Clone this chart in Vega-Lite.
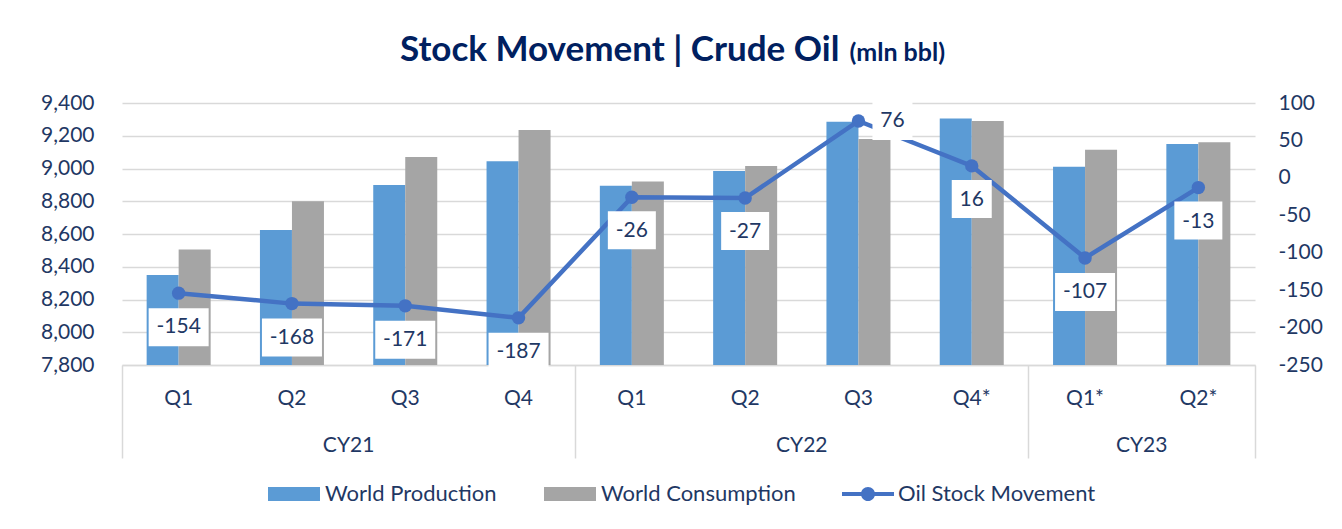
{
  "$schema": "https://vega.github.io/schema/vega-lite/v6.json",
  "width": 1133,
  "height": 262,
  "autosize": {"type": "none"},
  "padding": {"left": 122, "top": 103, "right": 87, "bottom": 164},
  "background": "white",
  "title": {
    "text": "Stock Movement | Crude Oil",
    "anchor": "start",
    "frame": "group",
    "dx": 278,
    "fontSize": 35,
    "fontWeight": "bold",
    "font": "Lato",
    "color": "#002060",
    "offset": -28
  },
  "config": {
    "font": "Lato",
    "view": {"stroke": null},
    "axis": {"labelFont": "Lato", "labelColor": "#1F3864", "labelFontSize": 21, "titleFont": "Lato"},
    "legend": {"labelFont": "Lato"}
  },
  "data": {
    "values": [
      {"period": "CY21 Q1", "World Production": 8350, "World Consumption": 8505, "stock": -154},
      {"period": "CY21 Q2", "World Production": 8625, "World Consumption": 8800, "stock": -168},
      {"period": "CY21 Q3", "World Production": 8900, "World Consumption": 9070, "stock": -171},
      {"period": "CY21 Q4", "World Production": 9045, "World Consumption": 9235, "stock": -187},
      {"period": "CY22 Q1", "World Production": 8895, "World Consumption": 8920, "stock": -26},
      {"period": "CY22 Q2", "World Production": 8985, "World Consumption": 9015, "stock": -27},
      {"period": "CY22 Q3", "World Production": 9285, "World Consumption": 9180, "stock": 76},
      {"period": "CY22 Q4*", "World Production": 9305, "World Consumption": 9290, "stock": 16},
      {"period": "CY23 Q1*", "World Production": 9010, "World Consumption": 9115, "stock": -107},
      {"period": "CY23 Q2*", "World Production": 9150, "World Consumption": 9160, "stock": -13}
    ]
  },
  "layer": [
    {
      "transform": [{"fold": ["World Production", "World Consumption"], "as": ["series", "value"]}],
      "mark": {"type": "bar", "clip": true},
      "encoding": {
        "x": {
          "field": "period", "type": "nominal", "sort": null,
          "scale": {"type": "band", "paddingInner": 0, "paddingOuter": 0},
          "axis": {
            "orient": "bottom", "title": null,
            "labelExpr": "split(datum.value, ' ')[1]",
            "labelAngle": 0, "ticks": false, "tickSize": 0,
            "domain": true, "domainColor": "#D9D9D9", "domainWidth": 1.5,
            "labelPadding": 22, "labelBaseline": "top"
          }
        },
        "xOffset": {
          "field": "series", "type": "nominal",
          "sort": ["World Production", "World Consumption"],
          "scale": {"paddingInner": 0, "paddingOuter": 0.77}
        },
        "y": {
          "field": "value", "type": "quantitative",
          "scale": {"domain": [7800, 9400], "nice": false, "zero": false},
          "axis": {
            "orient": "left", "title": null,
            "values": [7800, 8000, 8200, 8400, 8600, 8800, 9000, 9200, 9400],
            "format": ",.0f", "grid": true, "gridColor": "#D9D9D9", "gridWidth": 1.5,
            "domain": false, "ticks": false, "labelPadding": 28
          }
        },
        "color": {
          "field": "series", "type": "nominal",
          "scale": {"domain": ["World Production", "World Consumption"], "range": ["#5B9BD5", "#A5A5A5"]},
          "legend": {
            "title": null, "orient": "none", "legendX": 146, "legendY": 365,
            "direction": "horizontal", "padding": 0,
            "symbolType": "M-1,-0.27L1,-0.27L1,0.27L-1,0.27Z", "symbolSize": 2704,
            "symbolStrokeWidth": 0, "symbolOpacity": 1,
            "labelFontSize": 22, "labelColor": "#1F3864", "labelOffset": 5,
            "columnPadding": 47, "labelLimit": 400
          }
        }
      }
    },
    {
      "encoding": {
        "x": {
          "field": "period", "type": "nominal", "sort": null,
          "scale": {"type": "band", "paddingInner": 0, "paddingOuter": 0},
          "axis": {
            "orient": "bottom", "title": null,
            "labelExpr": "datum.value == 'CY21 Q2' ? 'CY21' : datum.value == 'CY22 Q2' ? 'CY22' : datum.value == 'CY23 Q1*' ? 'CY23' : ''",
            "labelAngle": 0, "bandPosition": 1, "tickExtra": true, "labelOffset": 56.65,
            "ticks": true, "tickSize": 93, "tickColor": "#D9D9D9", "tickWidth": 1.5,
            "tickOpacity": {
              "condition": {"test": "datum.extra || datum.value == 'CY21 Q4' || datum.value == 'CY22 Q4*' || datum.value == 'CY23 Q2*'", "value": 1},
              "value": 0
            },
            "domain": false, "labelPadding": -24, "labelBaseline": "top", "labelOverlap": false
          }
        },
        "y": {
          "field": "stock", "type": "quantitative",
          "scale": {"domain": [-250, 100], "nice": false, "zero": false},
          "axis": {
            "orient": "right",
            "values": [-250, -200, -150, -100, -50, 0, 50, 100],
            "labelExpr": "'' + datum.value",
            "grid": false, "domain": false, "ticks": false, "labelPadding": 23,
            "title": "(mln bbl)", "titleX": -406, "titleY": -43, "titleAngle": 0,
            "titleAlign": "left", "titleBaseline": "alphabetic",
            "titleFontSize": 25, "titleFontWeight": "bold", "titleColor": "#002060"
          }
        }
      },
      "layer": [
        {"mark": {"type": "line", "color": "#4472C4", "strokeWidth": 4.5}},
        {
          "mark": {"type": "point", "shape": "circle", "filled": true, "size": 180, "opacity": 1},
          "encoding": {
            "fill": {
              "datum": "Oil Stock Movement",
              "scale": {"range": ["#4472C4"]},
              "legend": {
                "title": null, "orient": "none", "legendX": 720, "legendY": 365, "padding": 0,
                "symbolType": "M-1,-0.08L1,-0.08L1,0.08L-1,0.08Z M-0.27,0 A0.27,0.27 0 1,1 0.27,0 A0.27,0.27 0 1,1 -0.27,0 Z",
                "symbolSize": 2704, "symbolStrokeWidth": 0, "symbolOpacity": 1,
                "labelFontSize": 22, "labelColor": "#1F3864", "labelOffset": 4, "labelLimit": 400
              }
            }
          }
        },
        {
          "transform": [{"filter": "datum.stock <= -100"}],
          "mark": {"type": "point", "shape": "M-30,15L30,15L30,53L-30,53Z", "size": 4, "filled": true, "fill": "white", "opacity": 1, "strokeWidth": 0}
        },
        {
          "transform": [{"filter": "datum.stock > -100 && datum.stock < 0"}],
          "mark": {"type": "point", "shape": "M-24,14L24,14L24,52L-24,52Z", "size": 4, "filled": true, "fill": "white", "opacity": 1, "strokeWidth": 0}
        },
        {
          "transform": [{"filter": "datum.stock >= 0 && datum.stock < 50"}],
          "mark": {"type": "point", "shape": "M-20,14L20,14L20,52L-20,52Z", "size": 4, "filled": true, "fill": "white", "opacity": 1, "strokeWidth": 0}
        },
        {
          "transform": [{"filter": "datum.stock >= 50"}],
          "mark": {"type": "point", "shape": "M14,-19L54,-19L54,19L14,19Z", "size": 4, "filled": true, "fill": "white", "opacity": 1, "strokeWidth": 0}
        },
        {
          "transform": [{"filter": "datum.stock < 50"}],
          "mark": {"type": "text", "fontSize": 21, "color": "#1F3864", "dy": 34, "baseline": "middle", "align": "center"},
          "encoding": {"text": {"field": "stock", "type": "nominal"}}
        },
        {
          "transform": [{"filter": "datum.stock >= 50"}],
          "mark": {"type": "text", "fontSize": 21, "color": "#1F3864", "dx": 34, "baseline": "middle", "align": "center"},
          "encoding": {"text": {"field": "stock", "type": "nominal"}}
        }
      ]
    }
  ],
  "resolve": {"scale": {"y": "independent"}, "axis": {"x": "independent"}}
}
